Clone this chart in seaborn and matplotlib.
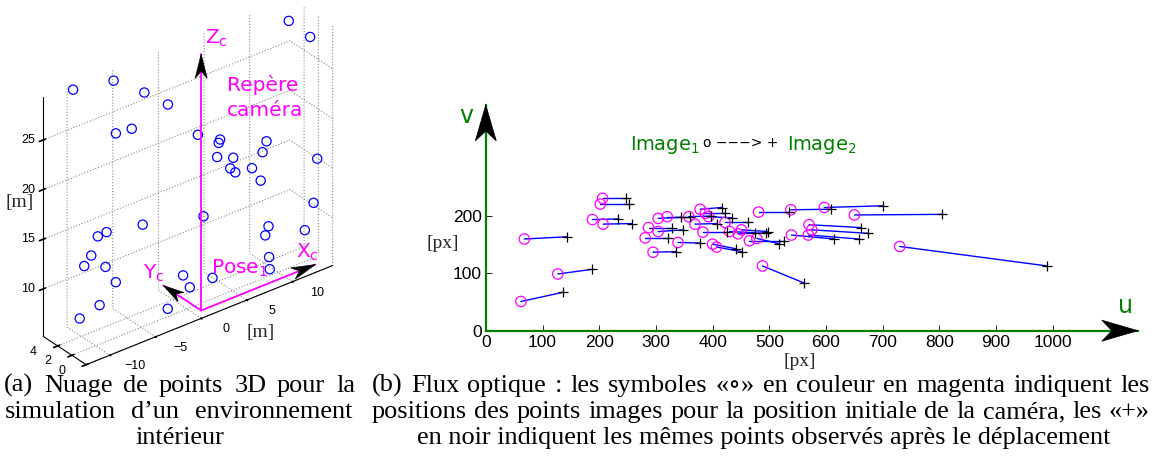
import numpy as np
import matplotlib
matplotlib.use("Agg")
import matplotlib.pyplot as plt
import seaborn as sns
from matplotlib.patches import Polygon

# ---------------------------------------------------------------- data
# 3D point cloud of the simulated indoor scene (metres)
cloud_x = [13.5, 13.5, -9.5, -5.3, -3.1, -1.3, -7.0, -3.7, 1.2, 5.2,
           2.7, 9.5, 7.9, 3.7, 3.9, 6.7, 5.3, 8.3, 7.3, 13.1,
           12.7, 2.6, -2.5, -8.8, -8.2, -9.7, -8.9, -9.7, -7.4, -8.0,
           -9.4, -2.1, -1.2, 1.1, 2.8, 10.5, 7.8, 13.7, 9.0, 7.9]
cloud_y = [5.0, 2.0, 5.8, 5.5, 4.0, 3.0, 3.0, 5.0, 2.0, 4.0,
           1.0, 3.0, 1.5, 2.5, 0.5, 4.5, 2.0, 3.5, 1.0, 0.5,
           0.5, 3.0, 5.0, 2.0, 4.0, 3.0, 5.0, 1.0, 2.5, 4.0,
           5.0, 2.0, 1.0, 3.0, 2.0, 4.0, 1.0, 3.0, 2.0, 0.5]
cloud_z = [27.8, 27.6, 29.0, 28.5, 27.2, 25.8, 25.0, 23.3, 22.3, 19.4,
           21.4, 18.1, 18.3, 18.9, 19.7, 15.7, 17.0, 15.6, 15.9, 16.2,
           11.9, 13.1, 13.2, 16.2, 14.6, 13.7, 11.4, 13.5, 10.4, 7.6,
           6.3, 6.0, 9.5, 6.5, 7.3, 8.7, 10.2, 7.6, 7.1, 7.0]

# scene bounds and ticks
x_lim, y_lim, z_lim = (-12.6, 14.4), (0.0, 6.0), (5.2, 29.3)
x_ticks, y_ticks, z_ticks = [-10, -5, 0, 5, 10], [0, 2, 4], [10, 15, 20, 25]
x_tick_labels = ["\u221210", "\u22125", "0", "5", "10"]

# camera frame at pose 1: origin and the three drawn axis vectors
pose_origin = [0.0, 0.0, 6.0]
frame_Xc = [12.5, 0.0, 0.0]
frame_Yc = [0.0, 5.3, 0.0]
frame_Zc = [0.0, 0.0, 25.8]

# optical flow: image-1 positions (circles) and image-2 positions (plus), px
u1 = [62, 127, 68, 206, 202, 188, 207, 295, 281, 339, 400, 407, 287,
      304, 304, 320, 378, 387, 393, 369, 422, 383, 430, 445, 465, 478,
      481, 538, 597, 650, 570, 575, 569, 539, 451, 730, 488, 358]
v1 = [51, 99, 160, 231, 221, 194, 186, 137, 162, 154, 151, 146, 180,
      173, 196, 199, 212, 205, 199, 186, 189, 172, 173, 169, 157, 161,
      207, 211, 215, 202, 185, 176, 167, 167, 176, 147, 113, 199]
u2 = [136, 187, 144, 247, 253, 233, 258, 335, 322, 377, 441, 451, 328,
      348, 345, 360, 416, 422, 434, 408, 463, 426, 475, 495, 526, 517,
      535, 608, 700, 804, 661, 674, 658, 614, 498, 990, 562, 398]
v2 = [67, 107, 164, 231, 221, 195, 187, 138, 162, 153, 143, 138, 180,
      176, 198, 199, 215, 205, 197, 187, 189, 172, 171, 171, 157, 152,
      207, 212, 218, 203, 180, 170, 160, 160, 173, 113, 83, 200]
u_ticks = list(range(0, 1001, 100))
v_ticks = [0, 100, 200]
u_lim, v_lim = (0, 1150), (0, 394)

caption_a = ["(a) Nuage de points 3D pour la",
             "simulation d’un environnement",
             "intérieur"]
caption_b = ["(b) Flux optique : les symboles «∘» en couleur en magenta indiquent les",
             "positions des points images pour la position initiale de la caméra, les «+»",
             "en noir indiquent les mêmes points observés après le déplacement"]

# ---------------------------------------------------------------- style
W, H = 1153, 471
MAGENTA = "#ff00ff"
GREEN = "#008000"
BLUE = "#0000ff"

sns.set_theme(style="white")
plt.rcParams["font.family"] = ["Liberation Sans", "DejaVu Sans"]
plt.rcParams["mathtext.fontset"] = "dejavusans"
plt.rcParams["grid.linestyle"] = ":"
plt.rcParams["grid.color"] = "#8a8a8a"
plt.rcParams["grid.linewidth"] = 0.8
plt.rcParams["axes.linewidth"] = 0.8
plt.rcParams["axes.edgecolor"] = "black"

SERIF = ["Liberation Serif", "DejaVu Serif"]

fig = plt.figure(figsize=(W / 100, H / 100), dpi=100)
fig.patch.set_facecolor("white")


def to_fig(px, py):
    """pixel position (origin top-left) -> figure fraction"""
    return px / W, 1 - py / H


def draw_head(tip, tail, length, width, notch):
    tip, tail = np.asarray(tip, float), np.asarray(tail, float)
    d = tip - tail
    d /= np.linalg.norm(d)
    n = np.array([-d[1], d[0]])
    base = tip - d * length
    pts = [tip, base + n * width / 2, tip - d * (length - notch), base - n * width / 2]
    fig.add_artist(Polygon([to_fig(*p) for p in pts], closed=True,
                           transform=fig.transFigure, fc="black", ec="black",
                           lw=0.5, zorder=10))


# ---------------------------------------------------------------- 3D cloud
ax3 = fig.add_axes([0.0, 0.2, 0.32, 0.8], projection="3d", proj_type="ortho")
ax3.view_init(elev=31, azim=-128)
ax3.set_xlim(*x_lim)
ax3.set_ylim(*y_lim)
ax3.set_zlim(*z_lim)
ax3.set_box_aspect((x_lim[1] - x_lim[0], y_lim[1] - y_lim[0], z_lim[1] - z_lim[0]))
ax3.set_xticks(x_ticks)
ax3.set_yticks(y_ticks)
ax3.set_zticks(z_ticks)
ax3.set_xticklabels([])
ax3.set_yticklabels([])
ax3.set_zticklabels([])
for axis in (ax3.xaxis, ax3.yaxis, ax3.zaxis):
    axis.set_pane_color((1, 1, 1, 0))
    axis.pane.set_edgecolor((1, 1, 1, 0))
    axis.line.set_color("black")
    axis.line.set_linewidth(0.8)
ax3.tick_params(colors="black")
ax3.patch.set_alpha(0)
ax3.grid(True)

ax3.scatter(cloud_x, cloud_y, cloud_z, marker="o", s=44, facecolors="none",
            edgecolors=BLUE, linewidths=0.9, depthshade=False)

frame = [frame_Xc, frame_Yc, frame_Zc]
for vec in frame:
    ax3.plot([pose_origin[0], pose_origin[0] + vec[0]],
             [pose_origin[1], pose_origin[1] + vec[1]],
             [pose_origin[2], pose_origin[2] + vec[2]],
             color=MAGENTA, lw=1.3)


def project(ax, pts):
    pts = np.atleast_2d(np.asarray(pts, float))
    hom = np.column_stack([pts, np.ones(len(pts))]) @ ax.M.T
    xy = hom[:, :2] / hom[:, 3:4]
    disp = ax.transData.transform(xy)
    return np.column_stack([disp[:, 0], H - disp[:, 1]])


# place the box: left-back-bottom and right-front-bottom corners
fig.canvas.draw()
corners = [[x_lim[0], y_lim[1], z_lim[0]], [x_lim[1], y_lim[0], z_lim[0]]]
for _ in range(2):
    A, B = project(ax3, corners)
    tA, tB = np.array([43.0, 335.0]), np.array([333.0, 267.0])
    k = np.linalg.norm(tB - tA) / np.linalg.norm(B - A)
    pos = ax3.get_position(original=True)
    C = np.array([(pos.x0 + pos.width / 2) * W, H - (pos.y0 + pos.height / 2) * H])
    Cn = (tA + tB) / 2 - k * ((A + B) / 2 - C)
    wn, hn = pos.width * k, pos.height * k
    ax3.set_position([Cn[0] / W - wn / 2, 1 - Cn[1] / H - hn / 2, wn, hn])
    fig.canvas.draw()

# tick labels of the 3D box
TICK3 = dict(family="Liberation Sans", fontsize=9, color="black", va="center")
for t, txt in zip(x_ticks, x_tick_labels):
    p = project(ax3, [[t, y_lim[0], z_lim[0]]])[0]
    fig.text(*to_fig(p[0] + 25, p[1] + 11), txt, ha="center", **TICK3)
for t in y_ticks:
    p = project(ax3, [[x_lim[0], t, z_lim[0]]])[0]
    fig.text(*to_fig(p[0] - 24, p[1] + 6), str(t), ha="center", **TICK3)
for t in z_ticks:
    p = project(ax3, [[x_lim[0], y_lim[1], t]])[0]
    fig.text(*to_fig(p[0] - 8, p[1]), str(t), ha="right", **TICK3)

o_px = project(ax3, [pose_origin])[0]
for vec, size in zip(frame, [(24, 12, 7), (21, 11, 6), (24, 12, 7)]):
    tip = project(ax3, [np.add(pose_origin, vec)])[0]
    draw_head(tip, o_px, *size)

lab = dict(color=MAGENTA, family="DejaVu Sans", fontsize=14.5, va="baseline")
fig.text(*to_fig(205, 44), r"Z$_\mathrm{c}$", **lab)
fig.text(*to_fig(227, 91), "Repère", **lab)
fig.text(*to_fig(227, 116), "caméra", **lab)
fig.text(*to_fig(211, 274), r"Pose$_1$", **lab)
fig.text(*to_fig(296, 258), r"X$_\mathrm{c}$", **lab)
fig.text(*to_fig(143, 279), r"Y$_\mathrm{c}$", **lab)
fig.text(*to_fig(20, 203), "[m]", family=SERIF, fontsize=14, ha="center", va="center")
fig.text(*to_fig(261, 332), "[m]", family=SERIF, fontsize=14, ha="center", va="center")

# ---------------------------------------------------------------- optical flow
x0 = 485.8
y0 = 330.7
px_u = 0.567   # pixels per image unit
px_v = 0.573
axr = fig.add_axes([x0 / W, (H - y0) / H, (u_lim[1] * px_u) / W, (v_lim[1] * px_v) / H])
axr.set_facecolor("none")
axr.plot(np.vstack([u1, u2]), np.vstack([v1, v2]), color=BLUE, lw=1.0, zorder=2)
sns.scatterplot(x=u1, y=v1, marker="o", s=56, facecolor="none", edgecolor=MAGENTA,
                linewidth=0.9, ax=axr, zorder=3)
sns.scatterplot(x=u2, y=v2, marker="+", s=60, color="black", linewidth=0.9,
                ax=axr, zorder=4)
axr.set_xlim(*u_lim)
axr.set_ylim(*v_lim)
axr.set_xticks(u_ticks)
axr.set_yticks(v_ticks)
axr.tick_params(direction="in", length=4, width=0.6, colors="black", labelsize=12.5,
                bottom=True, left=True, pad=3)
for side in ("top", "right"):
    axr.spines[side].set_visible(False)
for side in ("left", "bottom"):
    axr.spines[side].set_color(GREEN)
    axr.spines[side].set_linewidth(1.6)

fig.canvas.draw()
v_tip = axr.transAxes.transform((0, 1))
u_tip = axr.transAxes.transform((1, 0))
v_tip = np.array([v_tip[0], H - v_tip[1]])
u_tip = np.array([u_tip[0], H - u_tip[1]])
draw_head(v_tip, v_tip + [0, 50], 36, 21, 10)
draw_head(u_tip, u_tip - [50, 0], 36, 21, 10)

fig.text(*to_fig(466, 123), "v", color=GREEN, family="DejaVu Sans", fontsize=17,
         ha="center", va="baseline")
fig.text(*to_fig(1125, 313), "u", color=GREEN, family="DejaVu Sans", fontsize=17,
         ha="center", va="baseline")
fig.text(*to_fig(630, 150), r"Image$_1$", color=GREEN, family="DejaVu Sans",
         fontsize=14, va="baseline")
fig.text(*to_fig(741, 147), "o −−−> +", color="black", family="DejaVu Sans",
         fontsize=10, ha="center", va="baseline")
fig.text(*to_fig(787, 150), r"Image$_2$", color=GREEN, family="DejaVu Sans",
         fontsize=14, va="baseline")
fig.text(*to_fig(443, 243), "[px]", family=SERIF, fontsize=14, ha="center", va="center")
fig.text(*to_fig(800, 361), "[px]", family=SERIF, fontsize=14, ha="center", va="center")

# ---------------------------------------------------------------- captions
CAP = dict(family=SERIF, fontsize=18.9, color="black", va="baseline")
renderer = fig.canvas.get_renderer()


def justified(line, left, right, base):
    words = line.split(" ")
    texts = [fig.text(0, 0, w, **CAP) for w in words]
    widths = [t.get_window_extent(renderer).width for t in texts]
    gap = (right - left - sum(widths)) / (len(words) - 1)
    x = left
    for t, w in zip(texts, widths):
        t.set_position(to_fig(x, base))
        x += w + gap


justified(caption_a[0], 4, 355, 392)
justified(caption_a[1], 5, 352, 418)
fig.text(*to_fig(180, 444), caption_a[2], ha="center", **CAP)
justified(caption_b[0], 372, 1150, 392)
justified(caption_b[1], 372, 1150, 418)
fig.text(*to_fig(764, 444), caption_b[2], ha="center", **CAP)

fig.savefig("out.png", dpi=100)
